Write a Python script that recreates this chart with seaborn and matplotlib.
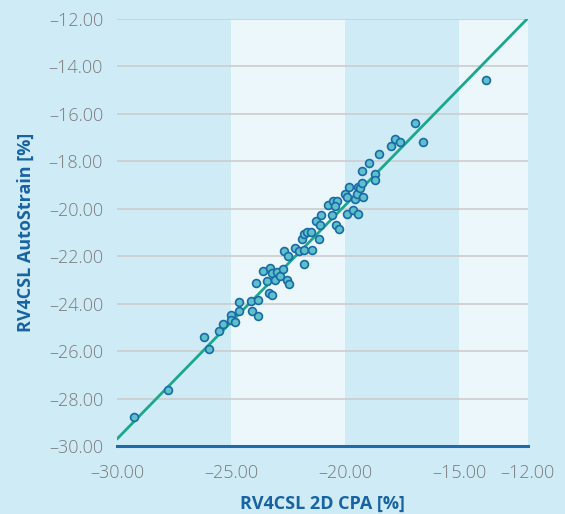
import numpy as np
import pandas as pd
import matplotlib
matplotlib.use("Agg")
import matplotlib.pyplot as plt
import seaborn as sns

# valores
cpa_2d = [-29.26, -27.76, -26.19, -25.98, -25.52, -25.34, -25.02, -24.99, -24.82, -24.63,
          -24.63, -24.12, -23.84, -24.07, -23.84, -23.92, -23.42, -23.35, -23.62, -23.22,
          -23.28, -23.20, -23.09, -22.97, -22.85, -22.72, -22.53, -22.48, -22.69, -22.52,
          -22.21, -22.01, -21.80, -21.47, -21.82, -21.89, -21.82, -21.65, -21.50, -21.14,
          -21.28, -21.12, -21.05, -20.76, -20.58, -20.42, -20.25, -20.54, -20.36, -20.44,
          -20.01, -19.84, -19.94, -19.56, -19.43, -19.94, -19.64, -19.43, -19.46, -19.36,
          -19.24, -19.23, -19.26, -18.97, -18.70, -18.68, -18.53, -17.98, -17.83, -17.61,
          -16.94, -16.59, -13.83]
autostrain = [-28.76, -27.63, -25.39, -25.90, -25.16, -24.84, -24.46, -24.69, -24.75, -23.93,
              -24.31, -23.89, -23.86, -24.29, -24.53, -23.13, -23.04, -23.53, -22.63, -23.65,
              -22.49, -22.71, -23.01, -22.68, -22.85, -22.55, -22.98, -23.15, -21.78, -22.00,
              -21.67, -21.78, -21.75, -21.72, -22.34, -21.25, -21.04, -20.99, -20.96, -21.27,
              -20.52, -20.70, -20.26, -19.82, -20.24, -20.70, -20.83, -19.66, -19.66, -19.87,
              -19.37, -19.07, -19.49, -19.58, -19.07, -20.20, -20.04, -20.20, -19.38, -19.14,
              -18.90, -19.51, -18.40, -18.06, -18.55, -18.79, -17.70, -17.35, -17.06, -17.18,
              -16.39, -17.18, -14.55]

# reta de regressao
fit_slope = 0.985
fit_intercept = -0.15

x_ticks = [-30, -25, -20, -15, -12]
y_ticks = [-30, -28, -26, -24, -22, -20, -18, -16, -14, -12]
bands = [(-25, -20), (-15, -12)]

df = pd.DataFrame({'cpa': cpa_2d, 'auto': autostrain})

bg = '#cfebf6'
band_color = '#ecf7fc'
label_color = '#1763a3'

sns.set_theme(style="white")
plt.rcParams['font.family'] = ['Open Sans', 'DejaVu Sans']

fig = plt.figure(figsize=(5.65, 5.14), dpi=100, facecolor=bg)
ax = fig.add_axes([0.207, 0.132, 0.727, 0.831])
ax.set_facecolor(bg)

for x0, x1 in bands:
    ax.axvspan(x0, x1, color=band_color, zorder=0, lw=0)

for yt in y_ticks:
    ax.axhline(yt, color='#cccccc', lw=1.2, zorder=1)

ax.axline((0, fit_intercept), slope=fit_slope, color='#1aa88c', lw=2, zorder=2)

sns.scatterplot(data=df, x='cpa', y='auto', ax=ax, s=32, color='#5ec0c8',
                edgecolor='#1a6aa8', linewidth=1.2, zorder=3)

ax.set_xlim(-30, -12)
ax.set_ylim(-30, -12)
ax.set_xticks(x_ticks)
ax.set_yticks(y_ticks)
ax.set_xticklabels([f'{v:.2f}'.replace('-', '\u2013') for v in x_ticks])
ax.set_yticklabels([f'{v:.2f}'.replace('-', '\u2013') for v in y_ticks])
ax.tick_params(axis='both', length=0, labelsize=13, labelcolor='#7a7a7a')
ax.tick_params(axis='x', pad=13)
ax.tick_params(axis='y', pad=10)
for lab in ax.get_xticklabels() + ax.get_yticklabels():
    lab.set_fontweight('light')

for side in ['top', 'right', 'left']:
    ax.spines[side].set_visible(False)
ax.spines['bottom'].set_color('#1f6aab')
ax.spines['bottom'].set_linewidth(2.2)
ax.spines['bottom'].set_zorder(4)

ax.set_xlabel('RV4CSL 2D CPA [%]', fontsize=13, fontweight='bold', color=label_color, labelpad=9)
ax.set_ylabel('RV4CSL AutoStrain [%]', fontsize=13, fontweight='bold', color=label_color, labelpad=10)

fig.savefig('out.png', dpi=100, facecolor=bg)
